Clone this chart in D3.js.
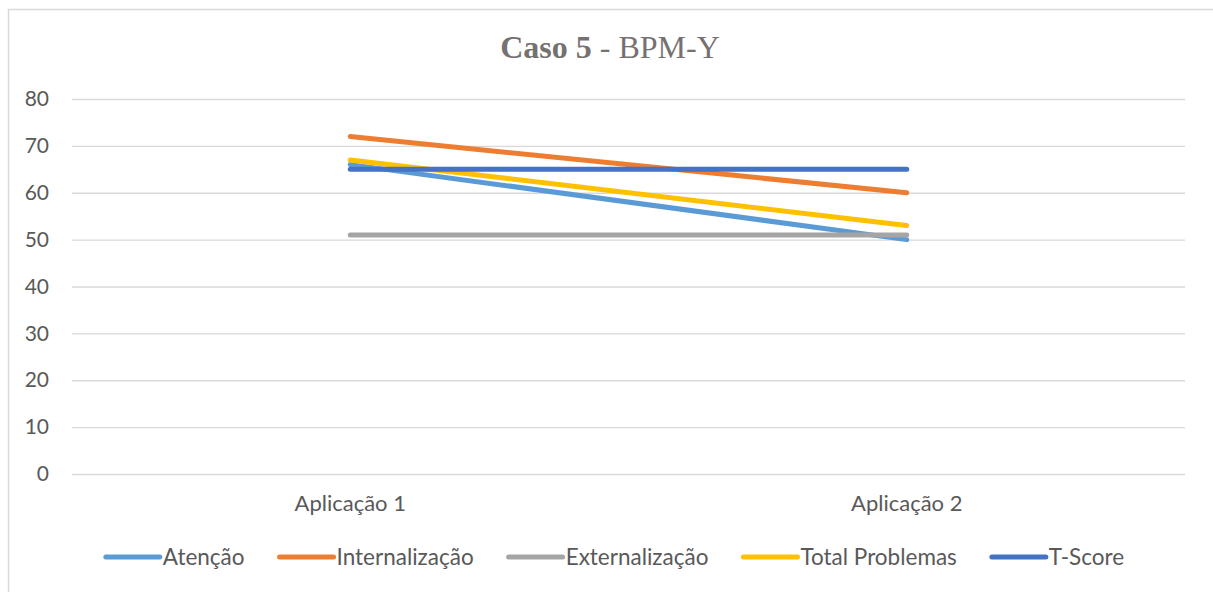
<!DOCTYPE html>
<html>
<head>
<meta charset="utf-8">
<script src="https://cdn.jsdelivr.net/npm/d3@7"></script>
<style>
  body { margin: 0; background: #fff; }
  text { font-family: Lato, "Open Sans", sans-serif; }
</style>
</head>
<body>
<div id="chart"></div>
<script>
const categories = ["Aplicação 1", "Aplicação 2"];
const seriesNames = ["Atenção", "Internalização", "Externalização", "Total Problemas", "T-Score"];
const atencao = [66, 50];
const internalizacao = [72, 60];
const externalizacao = [51, 51];
const totalProblemas = [67, 53];
const tScore = [65, 65];
const yTicks = [0, 10, 20, 30, 40, 50, 60, 70, 80];

const seriesColor = d3.scaleOrdinal()
    .domain(seriesNames)
    .range(["#5b9bd5", "#ed7d31", "#a5a5a5", "#ffc000", "#4472c4"]);

const series = [atencao, internalizacao, externalizacao, totalProblemas, tScore].map((vals, i) => {
    return { name: seriesNames[i], values: vals };
});

const W = 1213, H = 592;
const margin = { top: 99, right: 28, bottom: 118, left: 72 };
const width = W - margin.left - margin.right,
    height = H - margin.top - margin.bottom;

const svg = d3.select("#chart").append("svg")
    .attr("width", W)
    .attr("height", H);

// chart border
svg.append("rect")
    .attr("x", 8.5).attr("y", 9.5)
    .attr("width", W).attr("height", H)
    .attr("fill", "none")
    .attr("stroke", "#d9d9d9")
    .attr("stroke-width", 1.5);

// title
const title = svg.append("text")
    .attr("x", 610).attr("y", 58)
    .attr("text-anchor", "middle")
    .style("font-family", "'Liberation Serif', 'Times New Roman', serif")
    .style("font-size", "32px")
    .attr("fill", "#767171");
title.append("tspan").attr("font-weight", "bold").text("Caso 5");
title.append("tspan").text(" - BPM-Y");

const g = svg.append("g")
    .attr("transform", `translate(${margin.left}, ${margin.top})`);

const x = d3.scaleBand()
    .domain(categories)
    .range([0, width]);

const y = d3.scaleLinear()
    .domain([0, 80])
    .range([height, 0]);

// gridlines
g.append("g")
    .call(d3.axisLeft(y).tickValues(yTicks).tickSize(-width).tickFormat(""))
    .call(ax => ax.select(".domain").remove())
    .call(ax => ax.selectAll("line").attr("stroke", "#d9d9d9").attr("stroke-width", 1.3));

// y labels
g.append("g")
    .call(d3.axisLeft(y).tickValues(yTicks).tickSize(0).tickPadding(23))
    .call(ax => ax.select(".domain").remove())
    .call(ax => ax.selectAll("text")
        .attr("fill", "#595959")
        .style("font-size", "21px")
        .style("font-family", "Lato, 'Open Sans', sans-serif"));

// x labels
g.append("g")
    .attr("transform", `translate(0, ${height})`)
    .call(d3.axisBottom(x).tickSize(0).tickPadding(21))
    .call(ax => ax.select(".domain").remove())
    .call(ax => ax.selectAll("text")
        .attr("fill", "#595959")
        .style("font-size", "22px")
        .style("font-family", "Lato, 'Open Sans', sans-serif"));

const line = d3.line()
    .x((d, i) => x(categories[i]) + x.bandwidth() / 2)
    .y(d => y(d));

g.append("g")
    .selectAll("path")
    .data(series)
    .join("path")
    .attr("d", d => line(d.values))
    .attr("fill", "none")
    .attr("stroke", d => seriesColor(d.name))
    .attr("stroke-width", 5)
    .attr("stroke-linecap", "round");

// legend
const legend = svg.append("g");
const items = legend.selectAll("g")
    .data(seriesNames)
    .join("g");
items.append("line")
    .attr("x1", 0).attr("x2", 54)
    .attr("y1", 0).attr("y2", 0)
    .attr("stroke", d => seriesColor(d))
    .attr("stroke-width", 5)
    .attr("stroke-linecap", "round");
items.append("text")
    .attr("x", 57).attr("y", 8)
    .attr("fill", "#595959")
    .style("font-size", "22.5px")
    .text(d => d);

let pos = 0;
const offsets = [];
items.each(function () {
    offsets.push(pos);
    const tw = d3.select(this).select("text").node().getComputedTextLength();
    pos += 57 + tw + 35;
});
const totalW = pos - 35;
const startX = 615 - totalW / 2;
items.attr("transform", (d, i) => `translate(${startX + offsets[i]}, 557)`);
</script>
</body>
</html>
